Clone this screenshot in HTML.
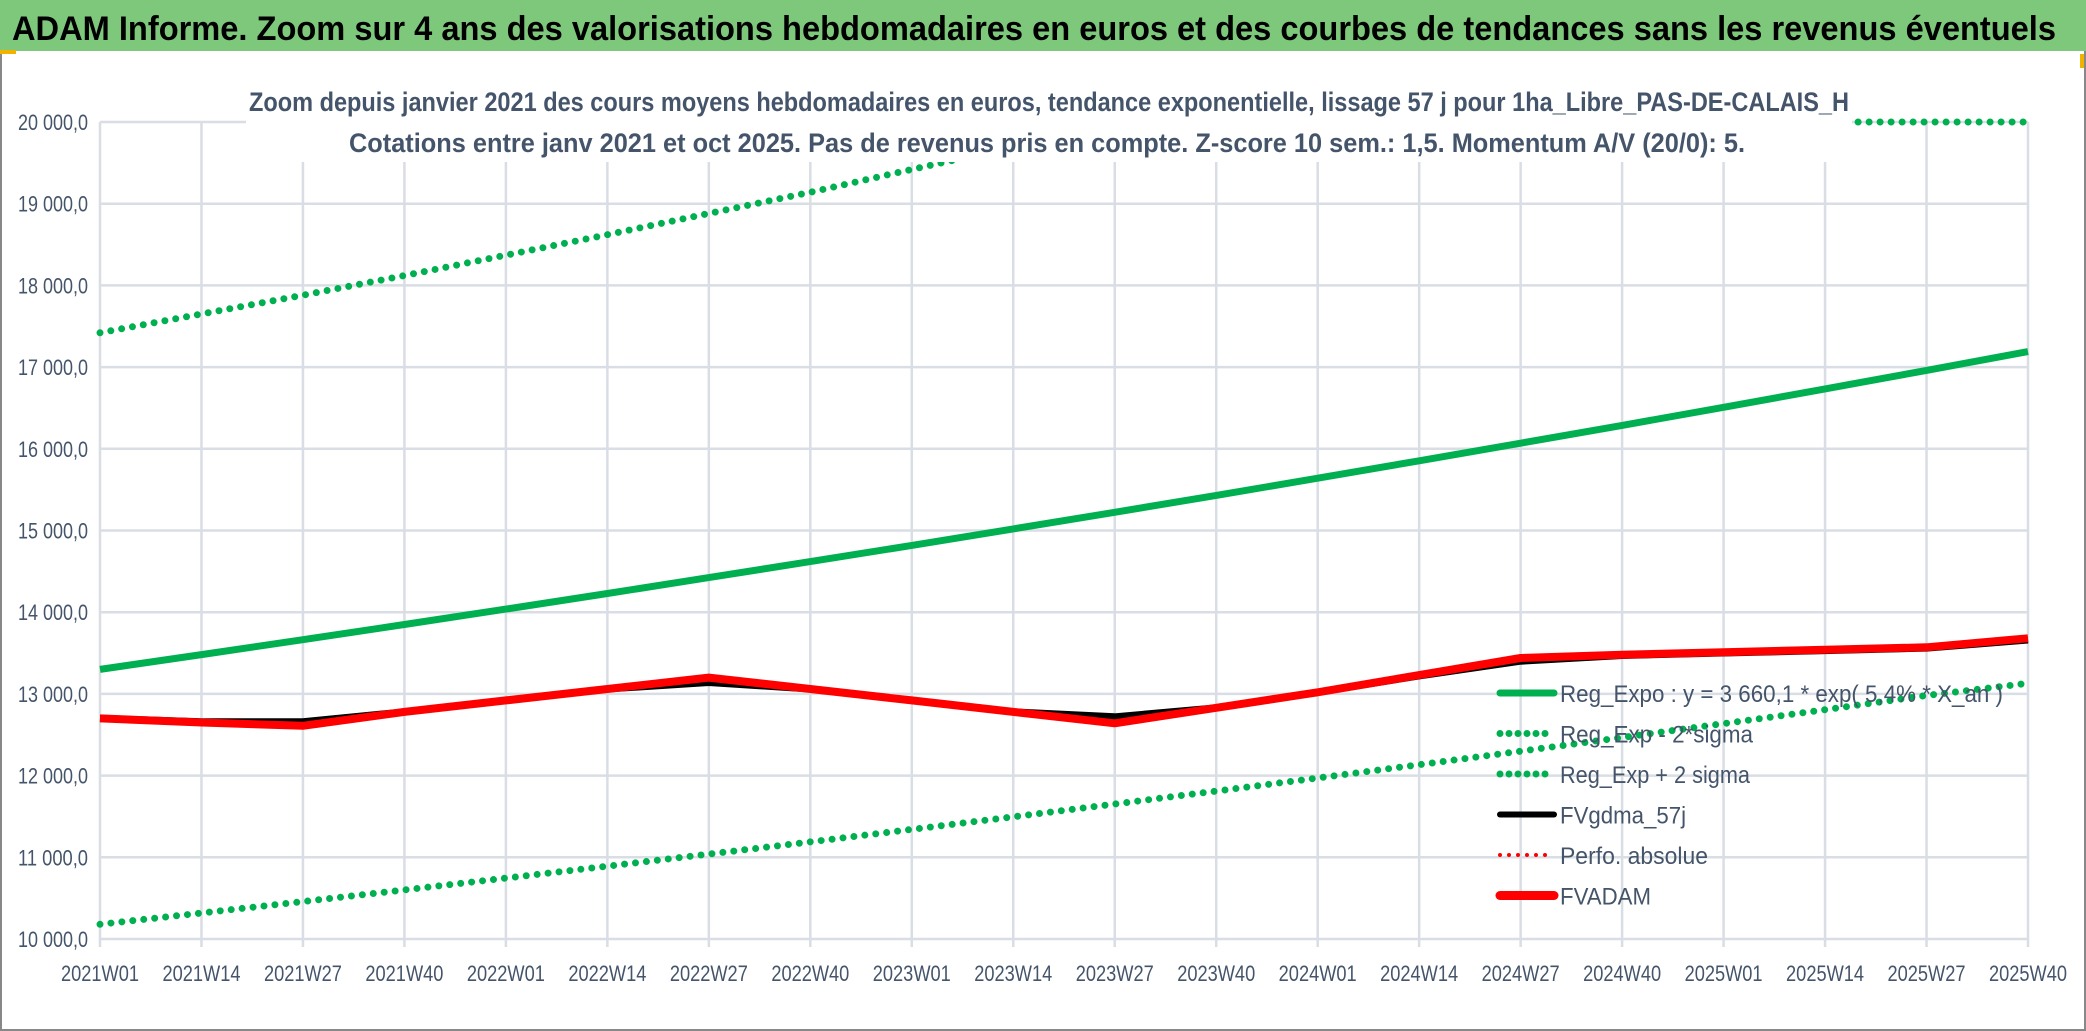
<!DOCTYPE html>
<html><head><meta charset="utf-8"><style>
html,body{margin:0;padding:0;background:#fff;}
svg{display:block;font-family:"Liberation Sans",sans-serif;}
</style></head><body>
<svg id="chart" width="2086" height="1031" viewBox="0 0 2086 1031">
<rect x="0" y="0" width="2086" height="1031" fill="#fff"/>
<rect x="1" y="1" width="2084" height="1029" fill="none" stroke="#888" stroke-width="2"/>
<rect x="0" y="0" width="2086" height="51" fill="#7ec87c"/>
<rect x="0" y="50" width="16" height="4" fill="#f0b400"/>
<rect x="2080" y="54" width="4" height="14" fill="#f0b400"/>
<text x="12" y="40" font-size="34" font-weight="bold" fill="#000" textLength="2044" lengthAdjust="spacingAndGlyphs">ADAM Informe. Zoom sur 4 ans des valorisations hebdomadaires en euros et des courbes de tendances sans les revenus éventuels</text>
<g id="grid"></g>
<g id="series"></g>
<rect x="246" y="82" width="1606" height="80" fill="#fff"/>
<text x="249" y="111" font-size="27" font-weight="bold" fill="#44546a" textLength="1600" lengthAdjust="spacingAndGlyphs">Zoom depuis janvier 2021 des cours moyens hebdomadaires en euros, tendance exponentielle, lissage 57 j pour 1ha_Libre_PAS-DE-CALAIS_H</text>
<text x="349" y="152" font-size="27" font-weight="bold" fill="#44546a" textLength="1396" lengthAdjust="spacingAndGlyphs">Cotations entre janv 2021 et oct 2025. Pas de revenus pris en compte. Z-score 10 sem.: 1,5. Momentum A/V (20/0): 5.</text>
<g id="axes"></g>
<g id="legend"></g>
</svg>
<script>
const tickLabels=["2021W01","2021W14","2021W27","2021W40","2022W01","2022W14","2022W27","2022W40","2023W01","2023W14","2023W27","2023W40","2024W01","2024W14","2024W27","2024W40","2025W01","2025W14","2025W27","2025W40"];
const tickIdx=[0,13,26,39,52,65,78,91,104,117,130,143,156,169,182,195,208,221,234,247];
const yTicks=[10000,11000,12000,13000,14000,15000,16000,17000,18000,19000,20000];
const regExpo=[13300,13481,13664,13850,14038,14229,14423,14619,14818,15019,15223,15430,15640,15853,16068,16287,16508,16733,16960,17190];
const regMinus=[10180,10318,10458,10601,10745,10891,11039,11189,11342,11496,11652,11810,11971,12134,12299,12466,12636,12807,12981,13130];
const regPlus=[17420,17650,17880,18120,18370,18620,18880,19140,19420,19690,null,null,null,null,null,null,null,20000,20000,20000];
const fvgdma=[12700,12660,12660,12780,12920,13060,13140,13060,12920,12780,12720,12830,13020,13220,13400,13470,13500,13530,13560,13660];
const fvadam=[12700,12650,12610,12780,12920,13060,13200,13060,12920,12780,12640,12830,13020,13230,13440,13480,13510,13540,13570,13680];
const NS="http://www.w3.org/2000/svg";
const X0=100,X1=2028,Y0=939,Y1=122,I1=247;
const xs=i=>X0+(X1-X0)*i/I1;
const ys=v=>Y0-(v-10000)*(Y0-Y1)/10000;
function mk(t,a,p){const e=document.createElementNS(NS,t);for(const k in a)e.setAttribute(k,a[k]);p.appendChild(e);return e;}
const grid=document.getElementById('grid'),axes=document.getElementById('axes'),ser=document.getElementById('series'),leg=document.getElementById('legend');
function fmt(v){const s=String(v);return s.slice(0,s.length-3)+' '+s.slice(-3)+',0';}
yTicks.forEach(v=>{
 const l=mk('line',{x1:X0,x2:X1,y1:ys(v),y2:ys(v),stroke:'#d9dde4','stroke-width':2.5},grid);
 
 
 const t=mk('text',{x:88,y:ys(v)+8,'text-anchor':'end','font-size':22,fill:'#44546a',textLength:70,lengthAdjust:'spacingAndGlyphs'},axes);
 t.textContent=fmt(v);
 
 
});
tickIdx.forEach((i,k)=>{
 const l=mk('line',{x1:xs(i),x2:xs(i),y1:Y1,y2:Y0+8,stroke:'#d9dde4','stroke-width':2.5},grid);
 
 
 const t=mk('text',{x:xs(i),y:981,'text-anchor':'middle','font-size':22,fill:'#44546a',textLength:78,lengthAdjust:'spacingAndGlyphs'},axes);
 t.textContent=tickLabels[k];
 
 
});
function path(arr){let d='',pen=false;arr.forEach((v,k)=>{if(v==null){pen=false;return;}d+=(pen?'L':'M')+xs(tickIdx[k]).toFixed(1)+' '+ys(v).toFixed(1)+' ';pen=true;});return d;}
const dot={stroke:'#00b050','stroke-width':7,'stroke-dasharray':'0 11','stroke-linecap':'round',fill:'none'};
let p;
p=mk('path',Object.assign({d:path(regMinus)},dot),ser);


p=mk('path',Object.assign({d:path(regPlus)},dot),ser);


p=mk('path',{d:path(regExpo),stroke:'#00b050','stroke-width':7,fill:'none','stroke-linejoin':'round'},ser);


p=mk('path',{d:path(fvgdma),stroke:'#000','stroke-width':7,fill:'none','stroke-linejoin':'round'},ser);


p=mk('path',{d:path(fvadam),stroke:'#ff0000','stroke-width':8,fill:'none','stroke-linejoin':'round'},ser);


const legItems=[["Reg_Expo : y = 3 660,1 * exp( 5,4% * X_an )","solid","#00b050",7,"legend-reg-expo",443],["Reg_Exp - 2*sigma","dot","#00b050",7,"legend-reg-minus",193],["Reg_Exp + 2 sigma","dot","#00b050",7,"legend-reg-plus",190],["FVgdma_57j","solid","#000",6,"legend-fvgdma",126],["Perfo. absolue","dot","#ff0000",4,"legend-perfo-absolue",148],["FVADAM","solid","#ff0000",9,"legend-fvadam",91]];
legItems.forEach((it,k)=>{
 const y=702+k*40.5;
 const g=mk('g',{},leg);
 
 
 const a={x1:1500,x2:1554,y1:y-9,y2:y-9,stroke:it[2],'stroke-width':it[3],'stroke-linecap':'round'};
 if(it[1]=='dot'){a['stroke-dasharray']='0 9';}
 mk('line',a,g);
 const t=mk('text',{x:1560,y:y,'font-size':24,fill:'#44546a',textLength:it[5],lengthAdjust:'spacingAndGlyphs'},g);
 t.textContent=it[0];
});
</script>
</body></html>
